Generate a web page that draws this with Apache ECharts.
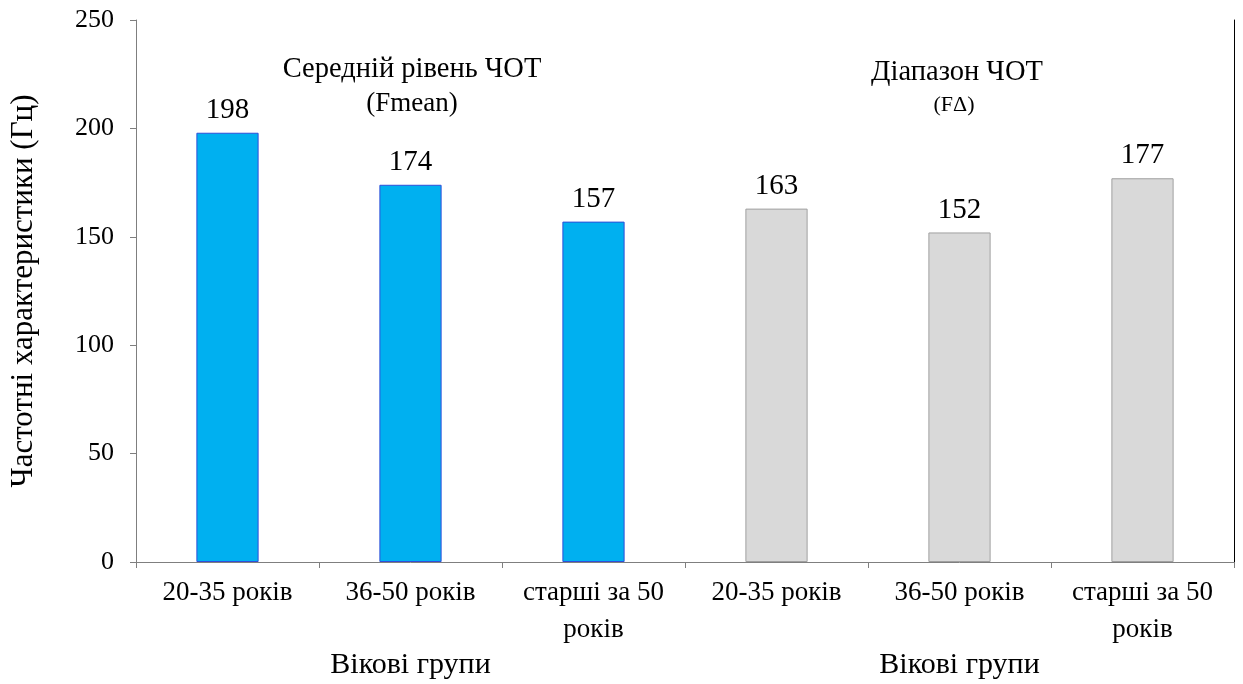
<!DOCTYPE html>
<html>
<head>
<meta charset="utf-8">
<script src="https://cdn.jsdelivr.net/npm/echarts@6/dist/echarts.min.js"></script>
<style>html,body{margin:0;padding:0;background:#fff;}#c{width:1243px;height:684px;}</style>
</head>
<body>
<div id="c"></div>
<script>
const categories = ['20-35 років', '36-50 років', 'старші за 50\nроків', '20-35 років', '36-50 років', 'старші за 50\nроків'];
const meanValues = [198, 174, 157, '-', '-', '-'];
const rangeValues = ['-', '-', '-', 163, 152, 177];
const groupNames = ['Вікові групи', 'Вікові групи'];
const yTitle = 'Частотні характеристики (Гц)';
const meanTitle = 'Середній рівень ЧОТ';
const meanSub = '(Fmean)';
const rangeTitle = 'Діапазон ЧОТ';
const rangeSub = '(FΔ)';

const FONT = 'Liberation Serif';
const chart = echarts.init(document.getElementById('c'), null, {renderer: 'canvas'});
const option = {
  animation: false,
  textStyle: {fontFamily: FONT, color: '#000'},
  grid: {left: 135, right: 9, top: 20, bottom: 122},
  xAxis: [{
    type: 'category',
    data: categories,
    boundaryGap: true,
    axisLine: {lineStyle: {color: '#7f7f7f', width: 1}},
    axisTick: {show: true, interval: 0, length: 6, lineStyle: {color: '#7f7f7f'}},
    axisLabel: {interval: 0, margin: 12, fontSize: 27, lineHeight: 37, color: '#000', fontFamily: FONT},
    splitLine: {show: true, interval: function (i) { return i === 3; }, lineStyle: {color: '#7f7f7f', width: 1}}
  }, {
    type: 'category',
    data: groupNames,
    position: 'bottom',
    axisLine: {show: false},
    axisTick: {show: false},
    axisLabel: {interval: 0, margin: 88, fontSize: 30, color: '#000', fontFamily: FONT},
    splitLine: {show: false}
  }],
  yAxis: [{
    type: 'value',
    min: 0, max: 250, interval: 50,
    name: yTitle,
    nameLocation: 'middle',
    nameGap: 97,
    nameTextStyle: {fontSize: 31, color: '#000', fontFamily: FONT},
    axisLine: {show: true, lineStyle: {color: '#7f7f7f', width: 1}},
    axisTick: {show: true, length: 6, lineStyle: {color: '#7f7f7f'}},
    axisLabel: {margin: 22, fontSize: 26, color: '#000', fontFamily: FONT},
    splitLine: {show: false}
  }, {
    type: 'value',
    min: 0, max: 250, interval: 50,
    position: 'right',
    axisLine: {show: true, lineStyle: {color: '#000', width: 1}},
    axisTick: {show: false},
    axisLabel: {show: false},
    splitLine: {show: false}
  }],
  series: [{
    type: 'bar',
    data: meanValues,
    barWidth: '34%',
    barGap: '-100%',
    itemStyle: {color: '#00B0F0', borderColor: '#2F4FD8', borderWidth: 1},
    label: {show: true, position: 'top', distance: 8, fontSize: 29, color: '#000', fontFamily: FONT}
  }, {
    type: 'bar',
    data: rangeValues,
    barWidth: '34%',
    barGap: '-100%',
    itemStyle: {color: '#D9D9D9', borderColor: '#A0A0A0', borderWidth: 1},
    label: {show: true, position: 'top', distance: 8, fontSize: 29, color: '#000', fontFamily: FONT}
  }],
  graphic: [
    {type: 'text', x: 412, y: 70, style: {text: meanTitle, align: 'center', verticalAlign: 'middle', fontSize: 28.5, fontFamily: FONT, fill: '#000'}},
    {type: 'text', x: 412, y: 104, style: {text: meanSub, align: 'center', verticalAlign: 'middle', fontSize: 27, fontFamily: FONT, fill: '#000'}},
    {type: 'text', x: 957, y: 73, style: {text: rangeTitle, align: 'center', verticalAlign: 'middle', fontSize: 28.5, fontFamily: FONT, fill: '#000'}},
    {type: 'text', x: 954, y: 105, style: {text: rangeSub, align: 'center', verticalAlign: 'middle', fontSize: 22, fontFamily: FONT, fill: '#000'}}
  ]
};
chart.setOption(option);
</script>
</body>
</html>
